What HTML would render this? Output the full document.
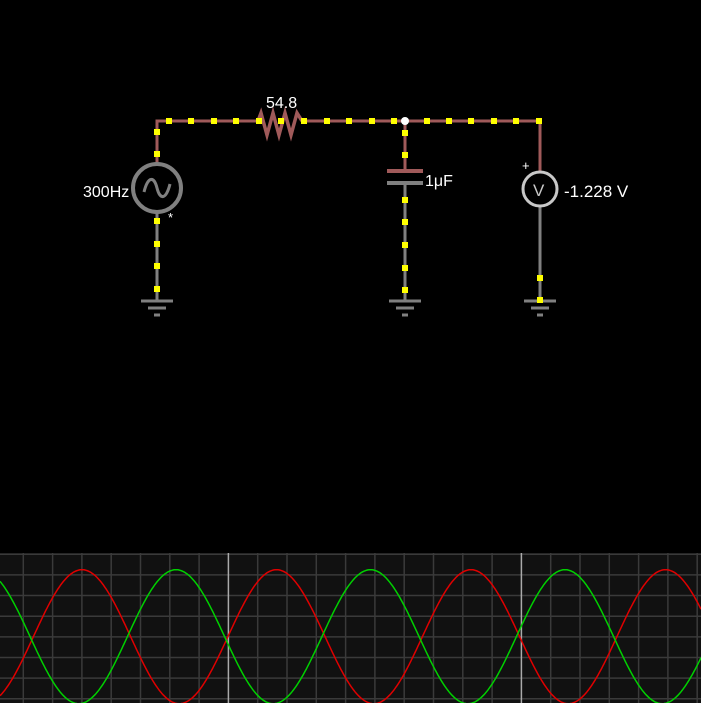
<!DOCTYPE html>
<html><head><meta charset="utf-8"><style>
html,body{margin:0;padding:0;background:#000;width:701px;height:703px;overflow:hidden}
svg{display:block}
text{font-family:"Liberation Sans",sans-serif;fill:#fff}
</style></head><body>
<svg id="s" width="701" height="703" viewBox="0 0 701 703">
<g fill="none" stroke-width="3">
<path d="M157,164 V121 H258 M304,121 H540 V171" stroke="#a05a5a"/>
<path d="M258,121 l3,-8 l6,22 l6,-22 l6,22 l6,-22 l6,22 l6,-22 l5,8" stroke="#a05a5a" stroke-width="3.5"/>
<path d="M405,121 V171" stroke="#a05a5a"/>
<line x1="387" y1="171" x2="423" y2="171" stroke="#a05a5a" stroke-width="4"/>
<line x1="387" y1="183" x2="423" y2="183" stroke="#808080" stroke-width="4"/>
<path d="M405,183 V300 M157,212 V300 M540,206 V300" stroke="#808080"/>
<circle cx="157" cy="188" r="24" stroke="#808080" stroke-width="4"/>
<path d="M144,192 C148,176 154,176 157,188 C160,200 166,200 170,184" stroke="#808080" stroke-width="3"/>
<circle cx="540" cy="189" r="17" stroke="#c8c8c8" stroke-width="3"/>
</g>
<g stroke="#808080" stroke-width="3">
<line x1="141" y1="301" x2="173" y2="301"/><line x1="148" y1="308" x2="166" y2="308"/><line x1="154" y1="315" x2="160" y2="315"/>
<line x1="389" y1="301" x2="421" y2="301"/><line x1="396" y1="308" x2="414" y2="308"/><line x1="402" y1="315" x2="408" y2="315"/>
<line x1="524" y1="301" x2="556" y2="301"/><line x1="531" y1="308" x2="549" y2="308"/><line x1="537" y1="315" x2="543" y2="315"/>
</g>
<circle cx="405" cy="121" r="4" fill="#fff"/>
<g id="dots" fill="#ffff00"></g>
<text x="266" y="108" font-size="16">54.8</text>
<text x="83" y="197" font-size="16">300Hz</text>
<text x="168" y="222" font-size="13">*</text>
<text x="425" y="186" font-size="16">1μF</text>
<text x="522" y="170" font-size="13">+</text>
<text x="533" y="196" font-size="17" style="fill:#c8c8c8">V</text>
<text x="564" y="197" font-size="17">-1.228 V</text>
<rect x="0" y="553" width="701" height="150" fill="#111"/>
<g id="grid" stroke="#3a3a3a" stroke-width="1.5"></g>
<path id="red" fill="none" stroke="#e00000" stroke-width="1.5"/>
<path id="green" fill="none" stroke="#00d000" stroke-width="1.5"/>
</svg>
<script>
var ns="http://www.w3.org/2000/svg";
function el(p,t,a){var e=document.createElementNS(ns,t);for(var k in a)e.setAttribute(k,a[k]);p.appendChild(e);return e;}
var d=document.getElementById("dots");
function dot(x,y){el(d,"rect",{x:x-3,y:y-3,width:6,height:6});}
[169,191,214,236,259,281,304,327,349,372,394,427,449,471,494,516,539].forEach(function(x){dot(x,121)});
[132,154,221,244,266,289].forEach(function(y){dot(157,y)});
[133,155,200,222,245,268,290].forEach(function(y){dot(405,y)});
[278,300].forEach(function(y){dot(540,y)});
var g=document.getElementById("grid");
for(var i=0;i<8;i++){var y=554.3+i*20.63;el(g,"line",{x1:0,y1:y,x2:701,y2:y});}
for(var i=-1;i<25;i++){var x=23.3+i*29.3;var w=(i==7||i==17);el(g,"line",{x1:x,y1:553,x2:x,y2:703,stroke:w?"#aaa":"#3a3a3a"});}
function wave(ph){var s="";for(var x=0;x<=701;x+=1){var y=636.7-67*Math.cos(2*Math.PI*(x-ph)/194.5);s+=(x?"L":"M")+x+","+y.toFixed(1);}return s;}
document.getElementById("red").setAttribute("d",wave(82));
document.getElementById("green").setAttribute("d",wave(176));
</script>
</body></html>
